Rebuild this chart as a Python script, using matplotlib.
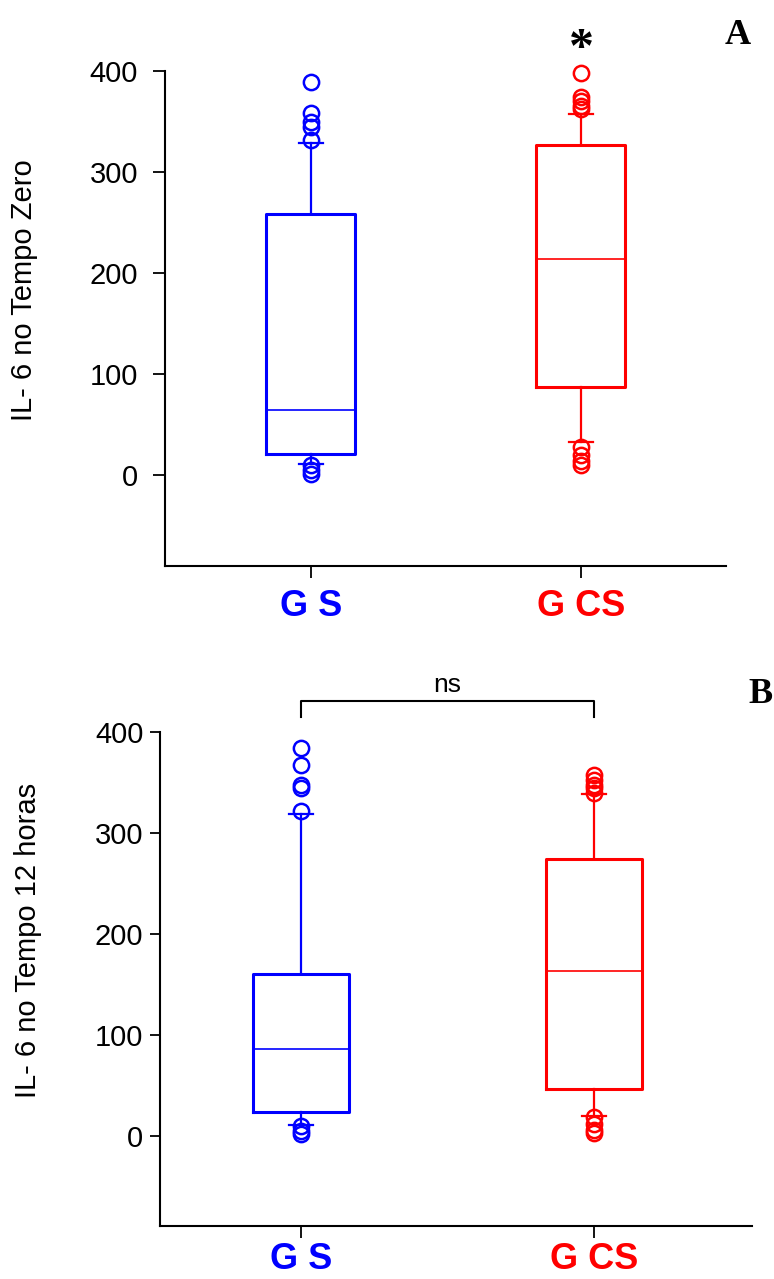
#!/usr/bin/env python3
"""IL-6 box plots, tempo zero (A) and tempo 12 horas (B)."""

import matplotlib

matplotlib.use("Agg")
import matplotlib.pyplot as plt

GROUPS = ["G S", "G CS"]
COLORS = ["#0000ff", "#ff0000"]

# panel A: tempo zero (whislo, q1, med, q3, whishi)
A_GS_STATS = [11, 21, 64, 258, 329]
A_GS_FLIERS = [1, 5, 10, 332, 345, 350, 358, 389]
A_GCS_STATS = [33, 87, 214, 327, 357]
A_GCS_FLIERS = [10, 14, 20, 28, 362, 365, 370, 374, 398]

# panel B: tempo 12 horas
B_GS_STATS = [11, 23.5, 86, 160, 319]
B_GS_FLIERS = [2, 5, 10, 322, 345, 348, 367, 384]
B_GCS_STATS = [20, 47, 163, 274, 339]
B_GCS_FLIERS = [3, 6, 12, 19, 340, 345, 348, 352, 357]

YTICKS = [0, 100, 200, 300, 400]

SANS = "Liberation Sans"
SERIF = "Liberation Serif"

W, H = 774, 1279


def make_stat(vals, fliers):
    lo, q1, med, q3, hi = vals
    return {"whislo": lo, "q1": q1, "med": med, "q3": q3, "whishi": hi, "fliers": fliers}


def draw_box(ax, stat, pos, color, capwidth):
    art = ax.bxp(
        [stat],
        positions=[pos],
        widths=0.33,
        capwidths=capwidth,
        manage_ticks=False,
        boxprops=dict(color=color, linewidth=2.2),
        medianprops=dict(color=color, linewidth=1.2),
        whiskerprops=dict(color=color, linewidth=1.6),
        capprops=dict(color=color, linewidth=1.6),
        flierprops=dict(marker="o", markerfacecolor="none", markeredgecolor=color,
                        markersize=11, markeredgewidth=1.8),
    )
    for key in art:
        for a in art[key]:
            a.set_clip_on(False)


def style_axes(ax, xlim, ylim, ylabel, label_xy, color_ticks, ypad, ylen, xpad):
    ax.set_xlim(*xlim)
    ax.set_ylim(*ylim)
    ax.set_yticks(YTICKS)
    ax.set_yticklabels([str(t) for t in YTICKS], fontsize=21, family=SANS)
    ax.set_xticks([1, 2])
    ax.set_xticklabels(GROUPS, fontsize=26, family=SANS, fontweight="bold")
    for lab, c in zip(ax.get_xticklabels(), COLORS):
        lab.set_color(c)
    if color_ticks:
        for tk, c in zip(ax.xaxis.get_major_ticks(), COLORS):
            tk.tick1line.set_color(c)
    ax.spines["top"].set_visible(False)
    ax.spines["right"].set_visible(False)
    for s in ("left", "bottom"):
        ax.spines[s].set_linewidth(1.5)
    ax.tick_params(axis="y", length=ylen, width=1.3, pad=ypad)
    ax.tick_params(axis="x", length=8.5, width=1.3, pad=xpad)
    ax.text(label_xy[0], label_xy[1], ylabel, transform=ax.transAxes, rotation=90,
            ha="center", va="center", fontsize=21, family=SANS)


fig = plt.figure(figsize=(W / 100, H / 100), dpi=100)

# panel A
axA = fig.add_axes([165 / W, 1 - 566 / H, 561 / W, 495 / H])
draw_box(axA, make_stat(A_GS_STATS, A_GS_FLIERS), 1, COLORS[0], 0.09)
draw_box(axA, make_stat(A_GCS_STATS, A_GCS_FLIERS), 2, COLORS[1], 0.09)
style_axes(axA, (0.46, 2.538), (-90, 400), "IL- 6 no Tempo Zero", (-0.251, 0.558), True,
           11, 8.5, 8)
fig.text(581 / W, 1 - 62 / H, "*", fontsize=36, family=SERIF, fontweight="bold",
         ha="center", va="baseline")
fig.text(738 / W, 1 - 44 / H, "A", fontsize=26, family=SERIF, fontweight="bold",
         ha="center", va="baseline")

# panel B
axB = fig.add_axes([160 / W, 1 - 1226 / H, 592 / W, 494 / H])
draw_box(axB, make_stat(B_GS_STATS, B_GS_FLIERS), 1, COLORS[0], 0.082)
draw_box(axB, make_stat(B_GCS_STATS, B_GCS_FLIERS), 2, COLORS[1], 0.082)
style_axes(axB, (0.519, 2.539), (-89, 400), "IL- 6 no Tempo 12 horas", (-0.223, 0.579), False,
           4.5, 7.5, 3)
axB.plot([1, 1, 2, 2], [415, 431, 431, 415], color="black", linewidth=1.5, clip_on=False)
axB.text(1.5, 440, "ns", ha="center", va="baseline", fontsize=19, family=SANS)
fig.text(748 / W, 1 - 703 / H, "B", fontsize=26, family=SERIF, fontweight="bold",
         ha="left", va="baseline")

fig.savefig("out.png", dpi=100)
